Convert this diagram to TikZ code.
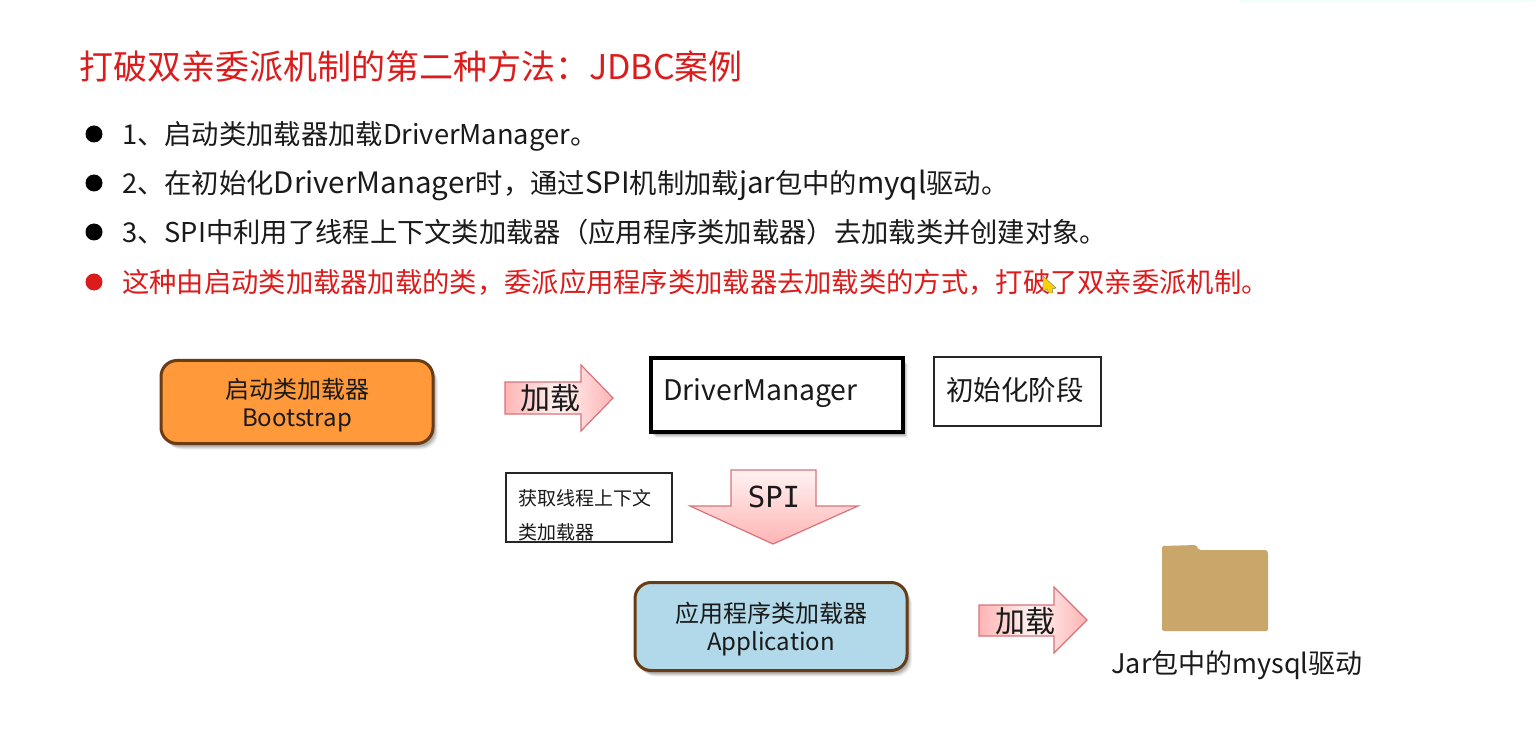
\documentclass[tikz,border=0pt]{standalone}
\usepackage{fontspec}
\usetikzlibrary{shadows,fadings}
\setmainfont{Noto Sans CJK SC}
\newfontfamily\monof{DejaVu Sans Mono}
\newcommand{\fz}[2]{\fontsize{#1}{#2}\selectfont}
\newcommand{\lat}[1]{{\fz{29.5}{29.5}#1}}
\definecolor{redtxt}{HTML}{DC1C1C}
\definecolor{darktxt}{HTML}{1A1A1A}
\definecolor{orangef}{HTML}{FF993A}
\definecolor{brownb}{HTML}{6A3C16}
\definecolor{bluef}{HTML}{B2D9E9}
\definecolor{arrowb}{HTML}{D9737A}
\definecolor{arrowl}{HTML}{FFF2F2}
\definecolor{arrowd}{HTML}{FFB4B4}
\definecolor{folderf}{HTML}{C9A669}
\definecolor{mintband}{HTML}{EEFFF8}
\tikzset{
  softshadow/.style={
    general shadow={shadow xshift=5pt,shadow yshift=-6pt,fill=black,opacity=.05,scale=1.015},
    general shadow={shadow xshift=4pt,shadow yshift=-5pt,fill=black,opacity=.08,scale=1.008},
    general shadow={shadow xshift=3pt,shadow yshift=-4pt,fill=black,opacity=.10},
    general shadow={shadow xshift=2pt,shadow yshift=-3pt,fill=black,opacity=.12,scale=.992}},
  loaderbox/.style={draw=brownb,line width=3pt,rounded corners=16pt,softshadow,inner sep=0pt,minimum width=272pt},
  loadertext/.style={align=center,text=darktxt,font=\fz{24}{28},inner sep=0pt},
  plainbox/.style={draw=black!85,fill=white,line width=1.4pt,inner sep=0pt,text=darktxt},
  bulletdot/.style={circle,fill=#1,inner sep=0pt,minimum size=17pt},
  bullettext/.style={anchor=base west,inner sep=0pt,font=\fz{27.3}{27.3},text=#1},
  blockarrow/.style={draw=arrowb,line width=1.2pt,line join=miter},
  arrowtext/.style={inner sep=0pt,font=\fz{30}{30},text=darktxt},
}
\begin{document}
\begin{tikzpicture}[x=1pt,y=-1pt]
\useasboundingbox (0,0) rectangle (1540,735);
\fill[white] (0,0) rectangle (1540,735);
\fill[mintband] (1240,0) rectangle (1534,2);
% title
\node[anchor=base west,inner sep=0pt,font=\fz{34}{34},text=redtxt] (title) at (79,80) {打破双亲委派机制的第二种方法：JDBC案例};
% bullets
\node[bulletdot=black] (d1) at (94,134) {};
\node[bulletdot=black] (d2) at (94,183) {};
\node[bulletdot=black] (d3) at (94,232) {};
\node[bulletdot=redtxt] (d4) at (94,282) {};
\node[bullettext=darktxt] (b1) at (122,145) {1、启动类加载器加载DriverManager。};
\node[bullettext=darktxt] (b2) at (122,194) {2、在初始化\lat{DriverManager}时，通过\lat{SPI}机制加载\lat{jar}包中的\lat{myql}驱动。};
\node[bullettext=darktxt] (b3) at (122,243) {3、SPI中利用了线程上下文类加载器（应用程序类加载器）去加载类并创建对象。};
\node[bullettext=redtxt] (b4) at (122,293) {这种由启动类加载器加载的类，委派应用程序类加载器去加载类的方式，打破了双亲委派机制。};
% cursor
\fill[yellow!70!orange,draw=black!55,line width=.4pt] (1043,276) -- (1056,288) -- (1052,289) -- (1053,293) -- (1049,293) -- (1047,289) -- (1043,291) -- cycle;
% boxes
\node[loaderbox,fill=orangef,minimum height=83pt] (boot) at (297,402) {};
\node[loadertext] (boott) at (297,405) {启动类加载器\\Bootstrap};
\node[loaderbox,fill=bluef,minimum height=88pt] (app) at (771,626.5) {};
\node[loadertext] (appt) at (771,629) {应用程序类加载器\\Application};
\node[draw=black,fill=white,line width=4pt,minimum width=252pt,minimum height=74pt,softshadow,inner sep=0pt] (dm) at (777,395) {};
\node[anchor=west,inner sep=0pt,font=\fz{28.4}{28.4},text=darktxt] (dmt) at (663,393) {DriverManager};
\node[plainbox,minimum width=167pt,minimum height=69pt] (init) at (1017.5,391.5) {};
\node[inner sep=0pt,font=\fz{27.5}{27.5},text=darktxt] (initt) at (1015,390.5) {初始化阶段};
\node[plainbox,minimum width=166pt,minimum height=69pt] (ctx) at (589,507.5) {};
\node[anchor=west,inner sep=0pt,font=\fz{19}{19},text=darktxt] (ctx1) at (518,498) {获取线程上下文};
\node[anchor=west,inner sep=0pt,font=\fz{19}{19},text=darktxt] (ctx2) at (518,532) {类加载器};
% block arrows
\shade[left color=arrowd,right color=arrowd,middle color=arrowl] (505,382) -- (581,382) -- (581,365) -- (613,398) -- (581,431) -- (581,414) -- (505,414) -- cycle;
\draw[blockarrow] (505,382) -- (581,382) -- (581,365) -- (613,398) -- (581,431) -- (581,414) -- (505,414) -- cycle;
\node[arrowtext] (l1) at (550.5,398) {加载};
\shade[top color=arrowl,bottom color=arrowd] (731,470) -- (816,470) -- (816,506) -- (858,506) -- (773,544) -- (690,506) -- (731,506) -- cycle;
\draw[blockarrow] (731,470) -- (816,470) -- (816,506) -- (858,506) -- (773,544) -- (690,506) -- (731,506) -- cycle;
\node[inner sep=0pt,font={\monof\fz{29}{29}},text=darktxt] (spi) at (774,497) {SPI};
\shade[left color=arrowd,right color=arrowd,middle color=arrowl] (979,605) -- (1054,605) -- (1054,587) -- (1087,620) -- (1054,653) -- (1054,636) -- (979,636) -- cycle;
\draw[blockarrow] (979,605) -- (1054,605) -- (1054,587) -- (1087,620) -- (1054,653) -- (1054,636) -- (979,636) -- cycle;
\node[arrowtext] (l2) at (1025,621) {加载};
% folder
\fill[folderf,rounded corners=1.5pt] (1162,631) -- (1162,546) -- (1196,545) -- (1199,550) -- (1267,550) -- (1268,553) -- (1268,631) -- cycle;
\node[inner sep=0pt,font=\fz{27}{27},text=darktxt] (jar) at (1237,665) {Jar包中的mysql驱动};
\end{tikzpicture}
\end{document}
